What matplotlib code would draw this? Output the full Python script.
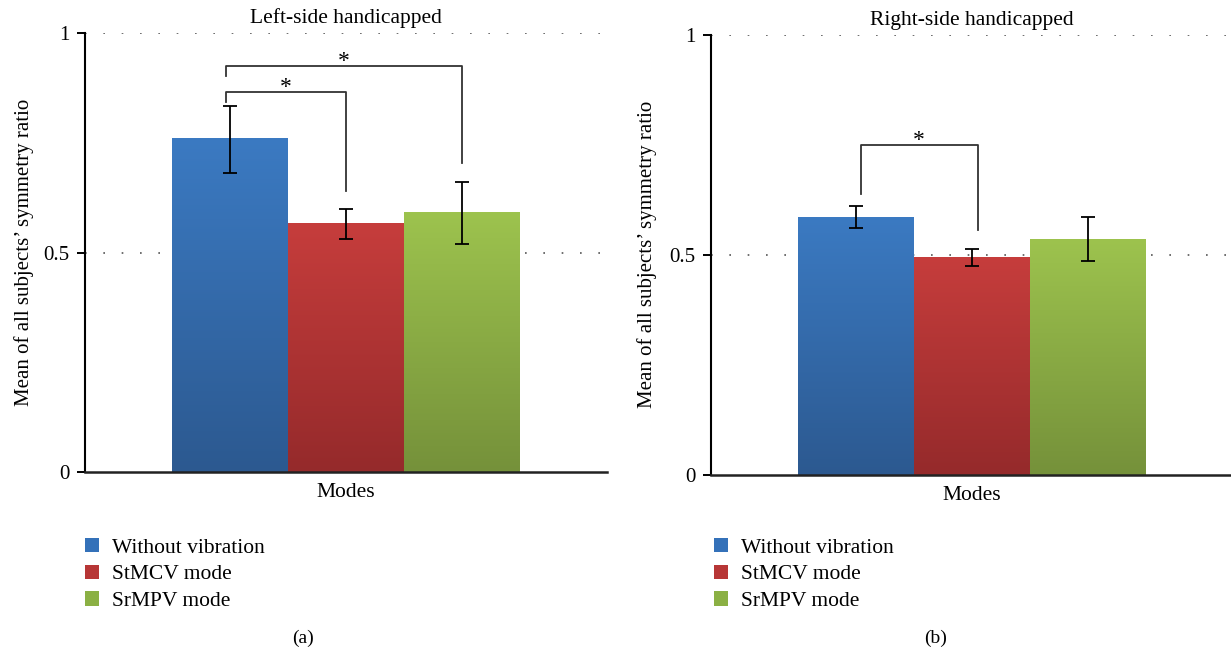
"""Symmetry ratio by vibration mode, left- vs right-side handicapped subjects."""

import matplotlib

matplotlib.use("Agg")
import matplotlib.pyplot as plt
import numpy as np
from matplotlib.colors import LinearSegmentedColormap
from matplotlib.patches import Patch

plt.rcParams["font.family"] = ["Liberation Serif", "DejaVu Serif"]

modes = ["Without vibration", "StMCV mode", "SrMPV mode"]

left_means = [0.758, 0.565, 0.590]
left_errs = [0.076, 0.034, 0.070]
right_means = [0.585, 0.494, 0.535]
right_errs = [0.025, 0.020, 0.050]

# significance brackets: (bar i, bar j, bracket height, leg bottom i, leg bottom j)
left_sig = [(0, 1, 0.866, 0.843, 0.640), (0, 2, 0.924, 0.902, 0.704)]
right_sig = [(0, 1, 0.749, 0.639, 0.556)]

# (top, bottom) gradient colours per mode
_GRADS = [("#3b7ac2", "#2c5990"), ("#c63d3c", "#952a2b"), ("#9dc34e", "#75913a")]
_SOLID = ["#3471b9", "#b73636", "#8bb044"]


def draw_panel(ax, means, errs, sig, title, leg_dx=(0.0, 0.0)):
    x = np.arange(len(means)) - 1.0
    bars = ax.bar(x, means, width=1.0, color=_SOLID, zorder=2, linewidth=0)
    grad = np.linspace(0, 1, 256).reshape(-1, 1)
    for b, (top, bot) in zip(bars, _GRADS):
        cmap = LinearSegmentedColormap.from_list("g", [bot, top])
        ax.imshow(grad, cmap=cmap, origin="lower", aspect="auto", zorder=2.1,
                  extent=[b.get_x(), b.get_x() + b.get_width(), 0, b.get_height()])
    ax.errorbar(x, means, yerr=errs, fmt="none", ecolor="black", elinewidth=1.3,
                capsize=5, capthick=1.3, zorder=3)

    for i, j, h, bi, bj in sig:
        xi, xj = x[i] + leg_dx[0], x[j] + leg_dx[1]
        ax.plot([xi, xi, xj, xj], [bi, h, h, bj], color="#333333", lw=1.3, zorder=3)
        ax.text((xi + xj) / 2, h - 0.002, "*", ha="center", va="baseline", fontsize=17)

    for yv in (0.5, 1.0):
        ax.axhline(yv, color="#555555", lw=1.2, ls=(0, (1, 10)), zorder=0.5)

    ax.set_xlim(-2.25, 2.25)
    ax.set_ylim(0, 1)
    ax.set_yticks([0, 0.5, 1])
    ax.set_yticklabels(["0", "0.5", "1"])
    ax.set_xticks([])
    ax.tick_params(axis="y", direction="out", length=6, width=1.4, pad=5, labelsize=15)
    for s in ("top", "right"):
        ax.spines[s].set_visible(False)
    ax.spines["left"].set_linewidth(1.5)
    ax.spines["bottom"].set_linewidth(1.8)
    ax.spines["bottom"].set_color("#222222")
    ax.set_title(title, fontsize=15.5, pad=7)
    ax.set_xlabel("Modes", fontsize=15.5, labelpad=8)
    ax.set_ylabel("Mean of all subjects\u2019 symmetry ratio", fontsize=15)


fig = plt.figure(figsize=(12.31, 6.55), dpi=100)
ax1 = fig.add_axes([0.0690, 0.2789, 0.4240, 0.6711])
ax2 = fig.add_axes([0.5776, 0.2753, 0.4240, 0.6713])

draw_panel(ax1, left_means, left_errs, left_sig, "Left-side handicapped", (-0.03, 0.0))
draw_panel(ax2, right_means, right_errs, right_sig, "Right-side handicapped", (0.04, 0.05))
ax1.yaxis.set_label_coords(-0.097, 0.5)
ax2.yaxis.set_label_coords(-0.103, 0.5)

handles = [Patch(facecolor=c, edgecolor="none") for c in _SOLID]
for x0, cap, cx in ((85 / 1231, "(a)", 0.246), (714 / 1231, "(b)", 0.760)):
    fig.legend(handles, modes, loc="upper left", bbox_to_anchor=(x0, 1 - 538 / 655),
               frameon=False, fontsize=15.5, handlelength=0.65, handleheight=0.65,
               handletextpad=0.6, labelspacing=0.32, borderpad=0, borderaxespad=0)
    fig.text(cx, 1 - 638 / 655, cap, ha="center", va="center", fontsize=14)

fig.savefig("out.png", dpi=100)
